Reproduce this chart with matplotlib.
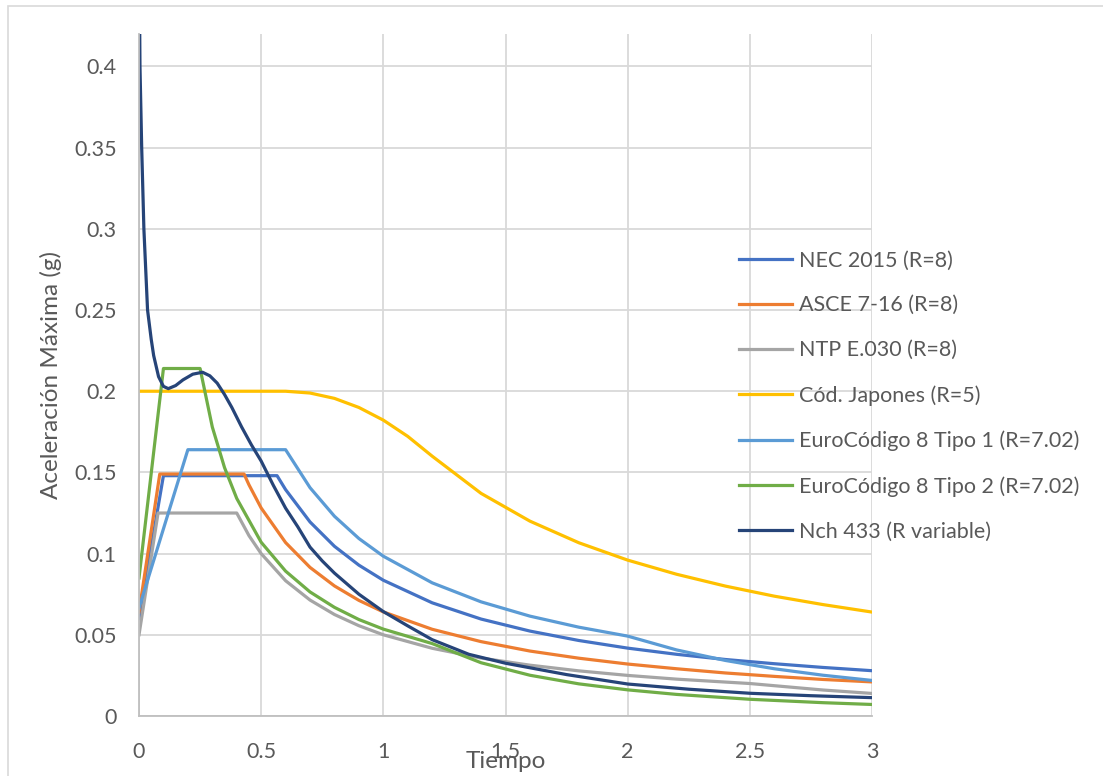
import matplotlib.pyplot as plt
from matplotlib.patches import Rectangle

# periodo (s) y aceleracion (g)
t_nec = [0, 0.1, 0.565, 0.6, 0.7, 0.8, 0.9, 1.0, 1.2, 1.4, 1.6, 1.8, 2.0, 2.2, 2.4, 2.6, 2.8, 3.0]
a_nec = [0.060, 0.148, 0.148, 0.1394, 0.1195, 0.1045, 0.0929, 0.0836, 0.0697, 0.0597, 0.0523,
         0.0465, 0.0418, 0.0380, 0.0348, 0.0322, 0.0299, 0.0279]

t_asce = [0, 0.085, 0.43, 0.45, 0.5, 0.6, 0.7, 0.8, 0.9, 1.0, 1.2, 1.4, 1.6, 1.8, 2.0, 2.2, 2.4,
          2.6, 2.8, 3.0]
a_asce = [0.064, 0.149, 0.149, 0.1424, 0.1281, 0.1068, 0.0915, 0.0801, 0.0712, 0.0641, 0.0534,
          0.0458, 0.0400, 0.0356, 0.0320, 0.0291, 0.0265, 0.0244, 0.0225, 0.0210]

t_ntp = [0, 0.078, 0.4, 0.45, 0.5, 0.6, 0.7, 0.8, 0.9, 1.0, 1.2, 1.4, 1.6, 1.8, 2.0, 2.2, 2.5,
         2.8, 3.0]
a_ntp = [0.050, 0.125, 0.125, 0.1111, 0.100, 0.0833, 0.0714, 0.0625, 0.0556, 0.050, 0.0417,
         0.0357, 0.0313, 0.0278, 0.025, 0.0227, 0.020, 0.016, 0.0139]

t_jap = [0, 0.6, 0.7, 0.8, 0.9, 1.0, 1.1, 1.2, 1.4, 1.6, 1.8, 2.0, 2.2, 2.4, 2.6, 2.8, 3.0]
a_jap = [0.200, 0.200, 0.1989, 0.1956, 0.190, 0.1822, 0.1722, 0.160, 0.1371, 0.120, 0.1067,
         0.096, 0.0873, 0.080, 0.0738, 0.0686, 0.064]

t_ec1 = [0, 0.2, 0.6, 0.7, 0.8, 0.9, 1.0, 1.2, 1.4, 1.6, 1.8, 2.0, 2.2, 2.4, 2.6, 2.8, 3.0]
a_ec1 = [0.0665, 0.164, 0.164, 0.1406, 0.123, 0.1093, 0.0984, 0.082, 0.0703, 0.0615, 0.0547,
         0.0492, 0.0407, 0.0342, 0.0291, 0.0251, 0.0219]

t_ec2 = [0, 0.1, 0.25, 0.3, 0.35, 0.4, 0.5, 0.6, 0.7, 0.8, 0.9, 1.0, 1.2, 1.4, 1.6, 1.8, 2.0,
         2.2, 2.5, 2.8, 3.0]
a_ec2 = [0.085, 0.214, 0.214, 0.178, 0.153, 0.134, 0.107, 0.0892, 0.0764, 0.0669, 0.0594,
         0.0535, 0.0446, 0.0328, 0.0251, 0.0198, 0.0161, 0.0133, 0.0103, 0.0082, 0.0071]

t_nch = [0, 0.004, 0.011, 0.02, 0.035, 0.05, 0.06, 0.08, 0.1, 0.12, 0.15, 0.18, 0.22, 0.26,
         0.29, 0.32, 0.35, 0.38, 0.42, 0.46, 0.5, 0.55, 0.6, 0.65, 0.7, 0.75, 0.8, 0.9, 1.0,
         1.1, 1.2, 1.35, 1.5, 1.75, 2.0, 2.25, 2.5, 2.75, 3.0]
a_nch = [0.48, 0.40, 0.35, 0.30, 0.25, 0.232, 0.222, 0.209, 0.203, 0.2016, 0.2035, 0.207,
         0.2105, 0.2117, 0.2095, 0.205, 0.198, 0.190, 0.178, 0.167, 0.157, 0.142, 0.128,
         0.1165, 0.104, 0.0955, 0.088, 0.075, 0.0643, 0.0555, 0.047, 0.038, 0.0325, 0.0255,
         0.0197, 0.0165, 0.014, 0.0125, 0.0113]

series = [
    ("NEC 2015 (R=8)", t_nec, a_nec, "#4472C4"),
    ("ASCE 7-16 (R=8)", t_asce, a_asce, "#ED7D31"),
    ("NTP E.030 (R=8)", t_ntp, a_ntp, "#A5A5A5"),
    ("Cód. Japones (R=5)", t_jap, a_jap, "#FFC000"),
    ("EuroCódigo 8 Tipo 1 (R=7.02)", t_ec1, a_ec1, "#5B9BD5"),
    ("EuroCódigo 8 Tipo 2 (R=7.02)", t_ec2, a_ec2, "#70AD47"),
    ("Nch 433 (R variable)", t_nch, a_nch, "#264478"),
]

plt.rcParams['font.family'] = ['Lato', 'DejaVu Sans']
txt = "#595959"

fig = plt.figure(figsize=(11.03, 7.76), dpi=100)
ax = fig.add_axes([139 / 1103, 60 / 776, 733 / 1103, 682 / 776])

# borde del area del grafico
fig.patches.append(Rectangle((8 / 1103, -0.1), 1.2, 1.1 - 7 / 776 + 0.001,
                             transform=fig.transFigure, fill=False,
                             edgecolor="#D9D9D9", lw=1.2))

for name, t, a, c in series:
    ax.plot(t, a, color=c, lw=2.3, label=name, solid_joinstyle="round")

ax.set_xlim(0, 3)
ax.set_ylim(0, 0.42)
ax.set_xticks([0, 0.5, 1, 1.5, 2, 2.5, 3])
ax.set_xticklabels(["0", "0.5", "1", "1.5", "2", "2.5", "3"])
ax.set_yticks([0, 0.05, 0.1, 0.15, 0.2, 0.25, 0.3, 0.35, 0.4])
ax.set_yticklabels(["0", "0.05", "0.1", "0.15", "0.2", "0.25", "0.3", "0.35", "0.4"])
ax.grid(True, color="#D9D9D9", lw=1.3)
ax.set_axisbelow(True)
for s in ["top", "right"]:
    ax.spines[s].set_visible(False)
for s in ["left", "bottom"]:
    ax.spines[s].set_color("#BFBFBF")
    ax.spines[s].set_linewidth(1.3)
ax.tick_params(length=0, labelsize=15.5, colors=txt)
ax.tick_params(axis="y", pad=16)
ax.tick_params(axis="x", pad=19)

ax.set_xlabel("Tiempo", fontsize=17.5, color=txt, labelpad=-8)
ax.set_ylabel("Aceleración Máxima (g)", fontsize=17.5, color=txt, labelpad=9)

leg = ax.legend(loc="upper left", bbox_to_anchor=(720 / 1103, 1 - 231 / 776),
                bbox_transform=fig.transFigure, frameon=False, fontsize=15.5,
                handlelength=2.45, handletextpad=0.3, labelspacing=1.16)
for text in leg.get_texts():
    text.set_color(txt)

fig.savefig("out.png", dpi=100)
